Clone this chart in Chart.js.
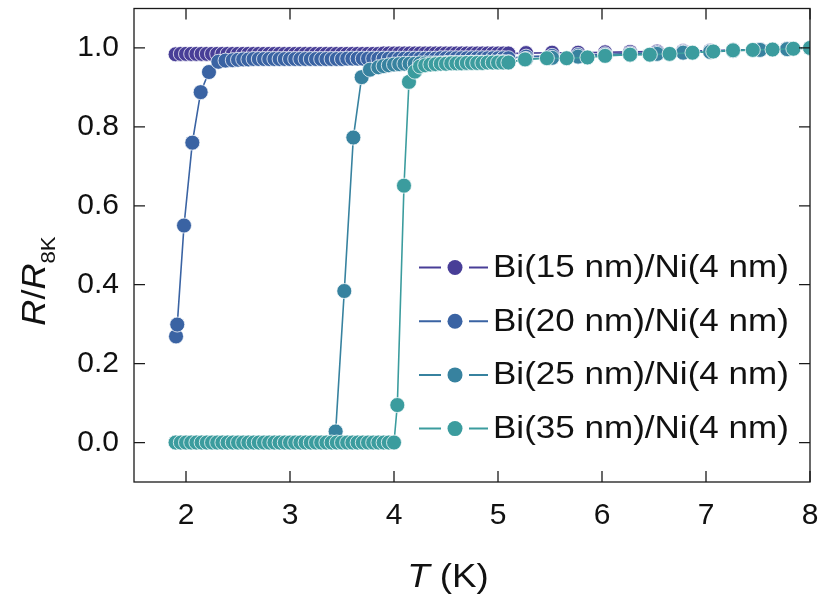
<!DOCTYPE html>
<html>
<head>
<meta charset="utf-8">
<script src="https://cdn.jsdelivr.net/npm/chart.js@4.4.1/dist/chart.umd.min.js"></script>
<style>
  html, body { margin: 0; padding: 0; background: #fff; }
  #wrap { width: 822px; height: 599px; }
</style>
</head>
<body>
<div id="wrap"><canvas id="c" width="822" height="599"></canvas></div>
<script>
// Normalised resistance R/R(8 K) versus temperature for Bi/Ni bilayers

const seriesLabels = ['Bi(15 nm)/Ni(4 nm)', 'Bi(20 nm)/Ni(4 nm)', 'Bi(25 nm)/Ni(4 nm)', 'Bi(35 nm)/Ni(4 nm)'];
const seriesColors = ['#483e97', '#3a63a3', '#37829f', '#3b9c9e'];

const xTickLabels = ['2', '3', '4', '5', '6', '7', '8'];
const yTickLabels = ['0.0', '0.2', '0.4', '0.6', '0.8', '1.0'];

// Bi(15 nm)/Ni(4 nm)
const T15 = [1.90,1.95,2.00,2.05,2.10,2.15,2.20,2.25,2.30,2.35,2.40,2.45,2.50,2.55,2.60,2.65,2.70,2.75,2.80,2.85,
  2.90,2.95,3.00,3.05,3.10,3.15,3.20,3.25,3.30,3.35,3.40,3.45,3.50,3.55,3.60,3.65,3.70,3.75,3.80,3.85,
  3.90,3.95,4.00,4.05,4.10,4.15,4.20,4.25,4.30,4.35,4.40,4.45,4.50,4.55,4.60,4.65,4.70,4.75,4.80,4.85,
  4.90,4.95,5.00,5.05,5.10,
  5.27,5.52,5.77,6.03,6.27,6.53,6.78,7.04,7.26,7.52,7.78,8.00];
const R15 = [0.984,0.985,0.985,0.985,0.985,0.985,0.985,0.985,0.985,0.985,0.985,0.985,0.985,0.985,0.985,0.985,0.985,0.985,0.985,0.985,
  0.985,0.985,0.985,0.985,0.985,0.985,0.985,0.985,0.985,0.985,0.985,0.985,0.985,0.985,0.985,0.985,0.985,0.985,0.985,0.985,
  0.986,0.986,0.986,0.986,0.986,0.986,0.986,0.986,0.986,0.986,0.986,0.986,0.986,0.986,0.986,0.986,0.986,0.986,0.986,0.986,
  0.986,0.986,0.986,0.986,0.986,
  0.987,0.988,0.988,0.989,0.990,0.991,0.992,0.993,0.995,0.996,0.998,1.000];

// Bi(20 nm)/Ni(4 nm)
const T20 = [1.904,1.916,1.981,2.061,2.141,2.221,2.311,2.38,
  2.45,2.50,2.55,2.60,2.65,2.70,2.75,2.80,2.85,2.90,2.95,3.00,3.05,3.10,3.15,3.20,3.25,3.30,3.35,3.40,3.45,3.50,
  3.55,3.60,3.65,3.70,3.75,3.80,3.85,3.90,3.95,4.00,4.05,4.10,4.15,4.20,4.25,4.30,4.35,4.40,
  4.45,4.50,4.55,4.60,4.65,4.70,4.75,4.80,4.85,4.90,4.95,5.00,5.05,5.10,
  5.27,5.52,5.77,6.03,6.27,6.53,6.78,7.04,7.26,7.52,7.78,8.00];
const R20 = [0.269,0.299,0.550,0.760,0.888,0.939,0.965,0.968,
  0.969,0.970,0.971,0.971,0.972,0.972,0.972,0.972,0.972,0.972,0.972,0.972,0.972,0.972,0.972,0.972,0.972,0.972,0.972,0.972,0.972,0.972,
  0.973,0.973,0.973,0.973,0.973,0.973,0.973,0.973,0.973,0.973,0.973,0.973,0.973,0.973,0.973,0.973,0.973,0.973,
  0.974,0.974,0.974,0.974,0.974,0.974,0.974,0.974,0.974,0.974,0.974,0.974,0.974,0.974,
  0.978,0.980,0.982,0.984,0.986,0.988,0.990,0.992,0.994,0.996,0.998,1.000];

// Bi(25 nm)/Ni(4 nm)
const T25 = [1.90,1.95,2.00,2.05,2.10,2.15,2.20,2.25,2.30,2.35,2.40,2.45,2.50,2.55,2.60,2.65,2.70,2.75,2.80,2.85,
  2.90,2.95,3.00,3.05,3.10,3.15,3.20,3.25,3.30,3.35,3.40,
  3.439,3.522,3.609,3.689,3.769,3.85,3.90,3.95,4.00,
  4.05,4.10,4.15,4.20,4.25,4.30,4.35,4.40,4.45,4.50,4.55,4.60,4.65,4.70,4.75,4.80,4.85,4.90,4.95,5.00,5.05,5.10,
  5.27,5.52,5.77,6.03,6.27,6.53,6.78,7.04,7.26,7.52,7.78,8.00];
const R25 = [0,0,0,0,0,0,0,0,0,0,0,0,0,0,0,0,0,0,0,0,
  0,0,0,0,0,0,0,0,0,0,0,
  0.028,0.384,0.773,0.926,0.945,0.951,0.954,0.956,0.958,
  0.959,0.960,0.960,0.960,0.961,0.961,0.961,0.961,0.961,0.962,0.962,0.962,0.962,0.962,0.963,0.963,0.963,0.963,0.963,0.964,0.964,0.964,
  0.972,0.975,0.978,0.981,0.983,0.985,0.988,0.990,0.993,0.995,0.997,1.000];

// Bi(35 nm)/Ni(4 nm)
const T35 = [1.90,1.95,2.00,2.05,2.10,2.15,2.20,2.25,2.30,2.35,2.40,2.45,2.50,2.55,2.60,2.65,2.70,2.75,2.80,2.85,
  2.90,2.95,3.00,3.05,3.10,3.15,3.20,3.25,3.30,3.35,3.40,3.45,3.50,3.55,3.60,3.65,3.70,3.75,3.80,3.85,
  3.90,3.95,4.00,
  4.032,4.096,4.144,4.20,4.25,4.30,4.35,4.40,4.45,4.50,
  4.55,4.60,4.65,4.70,4.75,4.80,4.85,4.90,4.95,5.00,5.05,5.10,
  5.26,5.47,5.66,5.86,6.03,6.27,6.46,6.65,6.87,7.07,7.26,7.45,7.64,7.84,8.00];
const R35 = [0,0,0,0,0,0,0,0,0,0,0,0,0,0,0,0,0,0,0,0,
  0,0,0,0,0,0,0,0,0,0,0,0,0,0,0,0,0,0,0,0,
  0,0,0,
  0.095,0.651,0.914,0.940,0.953,0.956,0.958,0.959,0.960,0.960,
  0.961,0.961,0.961,0.962,0.962,0.962,0.962,0.963,0.963,0.963,0.963,0.963,
  0.971,0.974,0.974,0.976,0.980,0.983,0.983,0.985,0.988,0.991,0.994,0.995,0.996,0.998,1.000];

const temps = [T15, T20, T25, T35];
const ratios = [R15, R20, R25, R35];

const FONT = "'Liberation Sans', Arial, Helvetica, sans-serif";

const datasets = seriesLabels.map((label, i) => ({
  label,
  data: temps[i].map((t, j) => ({ x: t, y: ratios[i][j] })),
  showLine: true,
  borderColor: seriesColors[i],
  backgroundColor: seriesColors[i],
  borderWidth: 1.6,
  pointRadius: 7.5,
  pointBackgroundColor: seriesColors[i],
  pointBorderColor: 'rgba(255,255,255,0.75)',
  pointBorderWidth: 1,
  order: seriesLabels.length - 1 - i
}));

// Frame with inward major/minor ticks on all four sides
const frameTicks = {
  id: 'frameTicks',
  afterDatasetsDraw(chart) {
    const { ctx, chartArea: a, scales: { x, y } } = chart;
    ctx.save();
    ctx.strokeStyle = '#1a1a1a';
    ctx.lineWidth = 1.3;
    ctx.beginPath();
    x.ticks.forEach(t => {
      const px = x.getPixelForValue(t.value);
      const len = Number.isInteger(t.value) ? 11 : 6;
      ctx.moveTo(px, a.bottom); ctx.lineTo(px, a.bottom - len);
      ctx.moveTo(px, a.top); ctx.lineTo(px, a.top + len);
    });
    y.ticks.forEach(t => {
      const py = y.getPixelForValue(t.value);
      const k = Math.round(t.value * 10);
      const len = (k % 2 === 0) ? 11 : 6;
      ctx.moveTo(a.left, py); ctx.lineTo(a.left + len, py);
      ctx.moveTo(a.right, py); ctx.lineTo(a.right - len, py);
    });
    ctx.stroke();
    ctx.strokeRect(a.left, a.top, a.right - a.left, a.bottom - a.top);
    ctx.restore();
  }
};

// Draws a sequence of text runs (mixed fonts / subscripts) centred on (0,0)
function drawRuns(ctx, runs, sx) {
  let total = 0;
  runs.forEach(r => { ctx.font = r.font; r.w = ctx.measureText(r.text).width; total += r.w; });
  let cx = -total / 2;
  ctx.save();
  ctx.scale(sx, 1);
  runs.forEach(r => {
    ctx.font = r.font;
    ctx.fillText(r.text, cx, r.dy || 0);
    cx += r.w;
  });
  ctx.restore();
}

// Axis titles and legend
const annotations = {
  id: 'annotations',
  afterDraw(chart) {
    const { ctx } = chart;
    ctx.save();
    ctx.fillStyle = '#111';
    ctx.textBaseline = 'alphabetic';
    ctx.textAlign = 'left';

    // x title: T (K)
    ctx.save();
    ctx.translate(448, 587);
    drawRuns(ctx, [
      { text: 'T', font: `italic 34px ${FONT}` },
      { text: ' (K)', font: `34px ${FONT}` }
    ], 1.08);
    ctx.restore();

    // y title: R/R8K
    ctx.save();
    ctx.translate(45, 281);
    ctx.rotate(-Math.PI / 2);
    drawRuns(ctx, [
      { text: 'R', font: `italic 34px ${FONT}` },
      { text: '/', font: `34px ${FONT}` },
      { text: 'R', font: `italic 34px ${FONT}` },
      { text: '8K', font: `21px ${FONT}`, dy: 10 }
    ], 1.06);
    ctx.restore();

    // legend
    const rowY0 = 267.5, rowGap = 53.7;
    chart.data.datasets.forEach((ds, i) => {
      const yy = rowY0 + i * rowGap;
      ctx.strokeStyle = ds.borderColor;
      ctx.lineWidth = 2;
      ctx.beginPath();
      ctx.moveTo(419, yy); ctx.lineTo(441, yy);
      ctx.moveTo(469, yy); ctx.lineTo(488, yy);
      ctx.stroke();
      ctx.fillStyle = ds.backgroundColor;
      ctx.beginPath();
      ctx.arc(455, yy, 7.5, 0, Math.PI * 2);
      ctx.fill();
      ctx.fillStyle = '#111';
      ctx.font = `31px ${FONT}`;
      ctx.textBaseline = 'middle';
      ctx.save();
      ctx.translate(493, yy + 1);
      ctx.scale(1.13, 1);
      ctx.fillText(ds.label, 0, 0);
      ctx.restore();
    });
    ctx.restore();
  }
};

new Chart(document.getElementById('c'), {
  type: 'scatter',
  data: { datasets },
  options: {
    responsive: false,
    devicePixelRatio: 1,
    animation: false,
    layout: { padding: { left: 0, right: 12, top: 6, bottom: 0 } },
    plugins: { legend: { display: false }, tooltip: { enabled: false } },
    scales: {
      x: {
        type: 'linear',
        min: 1.5,
        max: 8,
        grid: { display: false, drawTicks: false },
        border: { display: false },
        ticks: {
          stepSize: 0.5,
          autoSkip: false,
          maxRotation: 0,
          padding: 16,
          color: '#111',
          font: { family: FONT, size: 30 },
          callback: v => (Number.isInteger(v) && xTickLabels.includes(String(v))) ? String(v) : null
        },
        afterFit: s => { s.height = 117; s.paddingLeft = 0; s.paddingRight = 0; }
      },
      y: {
        type: 'linear',
        min: -0.1,
        max: 1.1,
        grid: { display: false, drawTicks: false },
        border: { display: false },
        ticks: {
          stepSize: 0.1,
          autoSkip: false,
          padding: 15,
          color: '#111',
          font: { family: FONT, size: 30 },
          callback: v => {
            const s = v.toFixed(1);
            return yTickLabels.includes(s) && Math.round(v * 10) % 2 === 0 ? s : null;
          }
        },
        afterFit: s => { s.width = 134; s.paddingTop = 0; s.paddingBottom = 0; }
      }
    }
  },
  plugins: [frameTicks, annotations]
});
</script>
</body>
</html>
